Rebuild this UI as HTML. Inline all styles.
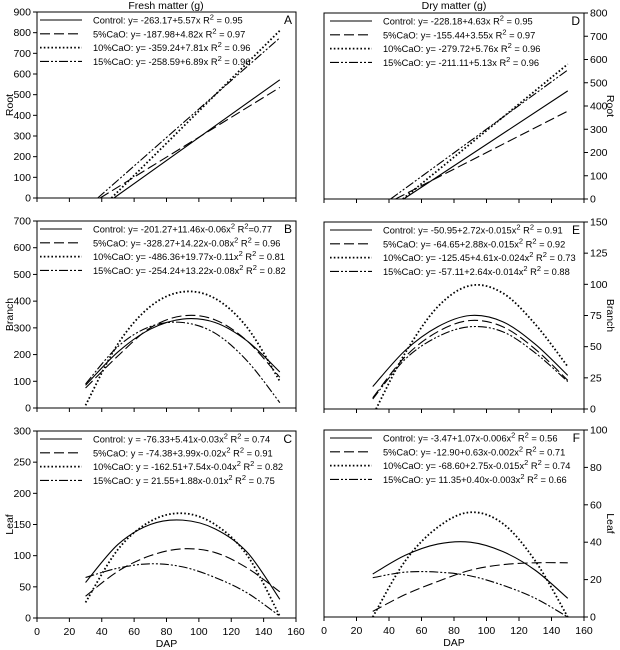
<!DOCTYPE html>
<html><head><meta charset="utf-8"><style>
html,body{margin:0;padding:0;background:#fff;}
svg{display:block;font-family:"Liberation Sans",Arial,sans-serif;}
</style></head><body>
<svg id="c" width="620" height="650" viewBox="0 0 620 650" xmlns="http://www.w3.org/2000/svg"></svg>
<script>
const NS="http://www.w3.org/2000/svg";
const svg=document.getElementById('c');
// ---- data ----
const quadX=[30,50,70,90,110,130,150];
// Panel A (linear, fresh root): [startX, 150]
const aCtrlX=[47.5,150], aCtrlY=[0,572];
const a5X=[39,150], a5Y=[0,535];
const a10X=[46,150], a10Y=[0,810];
const a15X=[37.5,150], a15Y=[0,775];
// Panel D (linear, dry root)
const dCtrlX=[49,150], dCtrlY=[0,465];
const d5X=[44,150], d5Y=[0,378];
const d10X=[48.5,150], d10Y=[0,580];
const d15X=[41,150], d15Y=[0,555];
// Panel B (fresh branch)
const bCtrl=[85,210,295,333,320,250,135];
const b5=[75,195,300,345,330,250,115];
const b10=[10,240,380,435,410,300,100];
const b15=[90,230,305,320,280,175,20];
// Panel C (fresh leaf)
const cCtrl=[57,118,150,157,143,105,30];
const c5=[35,75,100,111,105,80,42];
const c10=[25,110,155,168,150,100,3];
const c15=[65,80,87,82,65,40,3];
// Panel E (dry branch)
const eCtrl=[18,47,66,75,70,52,27];
const e5=[9,42,62,71,66,48,23];
const e10X=[32,50,70,90,110,130,150];
const e10=[0,45,82,99,93,68,34];
const e15=[8,40,58,66,62,45,22];
// Panel F (dry leaf)
const fCtrl=[23,33,39,40,35,25,10];
const f5=[3,12,19,25,28,29,29];
const f10=[0,30,48,56,50,30,0];
const f15=[21,24,24,22,17,10,0];
const xTicks=[0,20,40,60,80,100,120,140,160];
const legA=["Control: y= -263.17+5.57x  R","5%CaO: y= -187.98+4.82x  R","10%CaO: y= -359.24+7.81x  R","15%CaO: y= -258.59+6.89x  R"];
const legAr=[" = 0.95"," = 0.97"," = 0.96"," = 0.96"];
const legB=["Control: y= -201.27+11.46x-0.06x","5%CaO: y= -328.27+14.22x-0.08x","10%CaO: y= -486.36+19.77x-0.11x","15%CaO: y= -254.24+13.22x-0.08x"];
const legBr=["=0.77"," = 0.96"," = 0.81"," = 0.82"];
const legC=["Control: y = -76.33+5.41x-0.03x","5%CaO: y = -74.38+3.99x-0.02x","10%CaO: y = -162.51+7.54x-0.04x","15%CaO: y = 21.55+1.88x-0.01x"];
const legCr=[" = 0.74"," = 0.91"," = 0.82"," = 0.75"];
const legD=["Control: y= -228.18+4.63x  R","5%CaO: y= -155.44+3.55x  R","10%CaO: y= -279.72+5.76x R","15%CaO: y= -211.11+5.13x  R"];
const legDr=[" = 0.95"," = 0.97"," = 0.96"," = 0.96"];
const legE=["Control: y= -50.95+2.72x-0.015x","5%CaO: y= -64.65+2.88x-0.015x","10%CaO: y= -125.45+4.61x-0.024x","15%CaO: y= -57.11+2.64x-0.014x"];
const legEr=[" = 0.91"," = 0.92"," = 0.73"," = 0.88"];
const legF=["Control: y= -3.47+1.07x-0.006x","5%CaO: y= -12.90+0.63x-0.002x","10%CaO: y= -68.60+2.75x-0.015x","15%CaO: y= 11.35+0.40x-0.003x"];
const legFr=[" = 0.56"," = 0.71"," = 0.74"," = 0.66"];

const STY=[{d:"none",w:1.1},{d:"10,4",w:1.1},{d:"1.6,2.2",w:1.8},{d:"9,2,2,2,2,2",w:1.1}];
function el(t,a,p){const e=document.createElementNS(NS,t);for(const k in a)e.setAttribute(k,a[k]);(p||svg).appendChild(e);return e;}
function txt(x,y,s,size,anchor,p){const t=el('text',{x:x,y:y,'font-size':size,'text-anchor':anchor||'start',fill:'#000'},p);t.textContent=s;return t;}
function smooth(pts){let d=`M${pts[0][0]},${pts[0][1]}`;if(pts.length==2)return d+`L${pts[1][0]},${pts[1][1]}`;
 for(let i=0;i<pts.length-1;i++){const p0=pts[i-1]||pts[i],p1=pts[i],p2=pts[i+1],p3=pts[i+2]||p2;
 d+=`C${p1[0]+(p2[0]-p0[0])/6},${p1[1]+(p2[1]-p0[1])/6} ${p2[0]-(p3[0]-p1[0])/6},${p2[1]-(p3[1]-p1[1])/6} ${p2[0]},${p2[1]}`;}return d;}
function panel(o){
 const g=el('g',{});
 
 
 const sx=v=>o.x0+(v/160)*(o.x1-o.x0), sy=v=>o.yb-(v/o.ymax)*(o.yb-o.yt);
 el('rect',{x:o.x0,y:o.yt,width:o.x1-o.x0,height:o.yb-o.yt,fill:'none',stroke:'#000','stroke-width':1},g);
 xTicks.forEach(t=>{el('line',{x1:sx(t),x2:sx(t),y1:o.yb,y2:o.yb+4,stroke:'#000'},g);
  if(o.xlab){const tl=txt(sx(t),o.yb+17,String(t),10.5,'middle',g);}});
 if(o.xlab){const xt=txt((o.x0+o.x1)/2,o.yb+29,'DAP',10.5,'middle',g);}
 for(let v=0;v<=o.ymax+1e-9;v+=o.ystep){const y=sy(v);
  if(o.right){el('line',{x1:o.x1,x2:o.x1+4,y1:y,y2:y,stroke:'#000'},g);txt(o.x1+6,y+3.5,String(v),10.5,'start',g);}
  else{el('line',{x1:o.x0-4,x2:o.x0,y1:y,y2:y,stroke:'#000'},g);txt(o.x0-6,y+3.5,String(v),10.5,'end',g);}}
 const tx=o.right?607:13, ty=(o.yt+o.yb)/2;
 const yt=el('text',{x:tx,y:ty,'font-size':10.5,'text-anchor':'middle',transform:`rotate(${o.right?90:-90} ${tx} ${ty})`},g);yt.textContent=o.ytitle;
 
 txt(o.x1-4,o.yt+12,o.letter,12,'end',g);
 o.series.forEach((s,i)=>{const pts=s.x.map((xv,j)=>[sx(xv),sy(s.y[j])]);
  const p=el('path',{d:smooth(pts),fill:'none',stroke:'#000','stroke-width':STY[i].w,'stroke-dasharray':STY[i].d},g);
  
  });
 const lx=o.x0+(o.right?6:3);
 o.leg.forEach((s,i)=>{const y=o.yt+8+i*13.8;
  el('line',{x1:lx,x2:lx+42,y1:y,y2:y,stroke:'#000','stroke-width':STY[i].w,'stroke-dasharray':STY[i].d},g);
  const t=el('text',{x:lx+53,y:y+3.5,'font-size':9.3},g);
  
  const a=document.createElementNS(NS,'tspan');a.textContent=s;t.appendChild(a);
  const b=document.createElementNS(NS,'tspan');b.setAttribute('dy','-4');b.setAttribute('font-size','7.5');b.textContent='2';t.appendChild(b);
  const c=document.createElementNS(NS,'tspan');c.setAttribute('dy','4');
  c.textContent=o.quad?('  R'):'';t.appendChild(c);
  if(o.quad){const d=document.createElementNS(NS,'tspan');d.setAttribute('dy','-4');d.setAttribute('font-size','7.5');d.textContent='2';t.appendChild(d);
   const e=document.createElementNS(NS,'tspan');e.setAttribute('dy','4');e.textContent=o.legR[i];t.appendChild(e);}
  else{c.textContent=o.legR[i];}
 });
}
const L={x0:37,x1:296}, R={x0:324,x1:584,right:true};
panel({...L,name:'panel-a-fresh-root',yt:12,yb:198,ymax:900,ystep:100,ytitle:'Root',letter:'A',leg:legA,legR:legAr,quad:false,
 series:[{x:aCtrlX,y:aCtrlY},{x:a5X,y:a5Y},{x:a10X,y:a10Y},{x:a15X,y:a15Y}]});
panel({...L,name:'panel-b-fresh-branch',yt:221,yb:408,ymax:700,ystep:100,ytitle:'Branch',letter:'B',leg:legB,legR:legBr,quad:true,
 series:[{x:quadX,y:bCtrl},{x:quadX,y:b5},{x:quadX,y:b10},{x:quadX,y:b15}]});
panel({...L,name:'panel-c-fresh-leaf',yt:431,yb:618,ymax:300,ystep:50,ytitle:'Leaf',letter:'C',xlab:true,leg:legC,legR:legCr,quad:true,
 series:[{x:quadX,y:cCtrl},{x:quadX,y:c5},{x:quadX,y:c10},{x:quadX,y:c15}]});
panel({...R,name:'panel-d-dry-root',yt:13,yb:199,ymax:800,ystep:100,ytitle:'Root',letter:'D',leg:legD,legR:legDr,quad:false,
 series:[{x:dCtrlX,y:dCtrlY},{x:d5X,y:d5Y},{x:d10X,y:d10Y},{x:d15X,y:d15Y}]});
panel({...R,name:'panel-e-dry-branch',yt:222,yb:409,ymax:150,ystep:25,ytitle:'Branch',letter:'E',leg:legE,legR:legEr,quad:true,
 series:[{x:quadX,y:eCtrl},{x:quadX,y:e5},{x:e10X,y:e10},{x:quadX,y:e15}]});
panel({...R,name:'panel-f-dry-leaf',yt:430,yb:617,ymax:100,ystep:20,ytitle:'Leaf',letter:'F',xlab:true,leg:legF,legR:legFr,quad:true,
 series:[{x:quadX,y:fCtrl},{x:quadX,y:f5},{x:quadX,y:f10},{x:quadX,y:f15}]});
const t1=txt(166,9,'Fresh matter (g)',10.5,'middle');


const t2=txt(454,9,'Dry matter (g)',10.5,'middle');


</script>
</body></html>
